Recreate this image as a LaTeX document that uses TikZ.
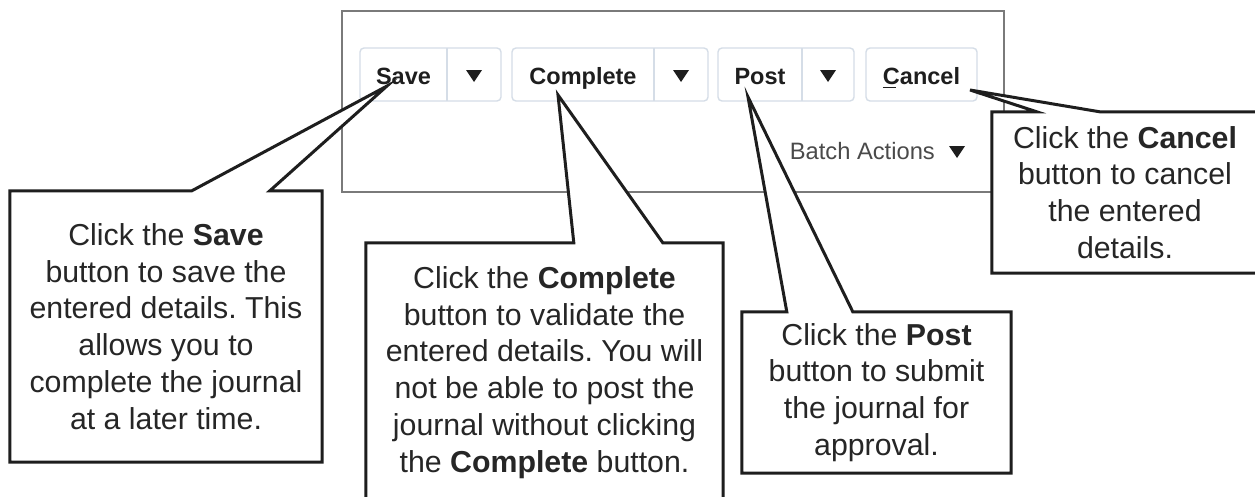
\documentclass[tikz,border=0pt]{standalone}
\usepackage{fontspec}
\setmainfont{Liberation Sans}
\frenchspacing

\pgfdeclarelayer{back}
\pgfdeclarelayer{mid}
\pgfsetlayers{back,mid,main}

\definecolor{panelgray}{HTML}{7A7A7A}
\definecolor{btnedge}{HTML}{D5DDE7}
\definecolor{ink}{HTML}{1E1E1E}
\definecolor{notegray}{HTML}{262626}
\definecolor{batchgray}{HTML}{4A4A4A}

\tikzset{
  btnlabel/.style={font=\fontsize{23.5}{28}\selectfont\bfseries, text=ink, inner sep=0pt, anchor=base},
  btnframe/.style={draw=btnedge, line width=1.4pt, rounded corners=4pt},
  btnsplit/.style={draw=btnedge, line width=1.4pt},
  ddarrow/.pic={\fill[ink] (-8,-6) -- (8,-6) -- (0,6) -- cycle;},
  calltext/.style={font=\fontsize{30.3}{36.7}\selectfont, text=notegray, align=center, inner sep=0pt},
  callshape/.style={draw=ink, fill=white, line width=3pt, line join=miter},
}

\begin{document}
\begin{tikzpicture}[x=1pt,y=-1pt]
\useasboundingbox (0,0) rectangle (1255,496);

% ---- toolbar panel -------------------------------------------------
\begin{pgfonlayer}{back}
  \fill[white] (0,0) rectangle (1255,496);
  \draw[panelgray, line width=2.2pt] (342,11) rectangle (1004,192);
  % split buttons
  \draw[btnframe] (360,48) rectangle (501,101);
  \draw[btnsplit] (447,48) -- (447,101);
  \draw[btnframe] (512,48) rectangle (708,101);
  \draw[btnsplit] (654,48) -- (654,101);
  \draw[btnframe] (718,48) rectangle (854,101);
  \draw[btnsplit] (802,48) -- (802,101);
  \draw[btnframe] (866,48) rectangle (977,101);
  % button captions
  \node[btnlabel] (savelbl) at (403.5,84) {Save};
  \node[btnlabel] (completelbl) at (583,84) {Complete};
  \node[btnlabel] (postlbl) at (760,84) {Post};
  \node[btnlabel] (cancellbl) at (921.5,84)
    {\makebox[0pt][l]{\rule[-4pt]{0.57em}{1.4pt}}Cancel};
  \pic at (474,76) {ddarrow};
  \pic at (681,76) {ddarrow};
  \pic at (828,76) {ddarrow};
  \node[font=\fontsize{23.7}{28}\selectfont, text=batchgray, inner sep=0pt, anchor=base east]
    (batch) at (935,159) {Batch Actions};
  \pic at (957,152) {ddarrow};
\end{pgfonlayer}

% ---- pointer tips on the buttons -------------------------------------
\coordinate (savetip) at (387,86);
\coordinate (completetip) at (558,95);
\coordinate (posttip) at (748,97);
\coordinate (canceltip) at (970,90);

% ---- callout texts ---------------------------------------------------
\node[calltext, minimum width=312pt, minimum height=271pt] (savenote) at (166,326.5)
  {Click the \textbf{Save}\\button to save the\\entered details. This\\allows you to\\complete the journal\\at a later time.};
\node[calltext, minimum width=357pt, minimum height=259pt] (completenote) at (544.5,372.5)
  {Click the \textbf{Complete}\\button to validate the\\entered details. You will\\not be able to post the\\journal without clicking\\the \textbf{Complete} button.};
\node[calltext, minimum width=269pt, minimum height=161pt] (postnote) at (876.5,392.5)
  {Click the \textbf{Post}\\button to submit\\the journal for\\approval.};
\node[calltext, minimum width=266pt, minimum height=161pt] (cancelnote) at (1125,192.5)
  {Click the \textbf{Cancel}\\button to cancel\\the entered\\details.};

% ---- callout outlines with pointers ------------------------------------
\begin{pgfonlayer}{mid}
  \draw[callshape] (savenote.north west) -- ([xshift=182pt]savenote.north west)
    -- (savetip) -- ([xshift=260pt]savenote.north west) -- (savenote.north east)
    -- (savenote.south east) -- (savenote.south west) -- cycle;
  \draw[callshape] (completenote.north west) -- ([xshift=208pt]completenote.north west)
    -- (completetip) -- ([xshift=297pt]completenote.north west) -- (completenote.north east)
    -- (completenote.south east) -- (completenote.south west) -- cycle;
  \draw[callshape] (postnote.north west) -- ([xshift=45pt]postnote.north west)
    -- (posttip) -- ([xshift=111pt]postnote.north west) -- (postnote.north east)
    -- (postnote.south east) -- (postnote.south west) -- cycle;
  \draw[callshape] (cancelnote.north west) -- ([xshift=45pt]cancelnote.north west)
    -- (canceltip) -- ([xshift=108pt]cancelnote.north west) -- (cancelnote.north east)
    -- (cancelnote.south east) -- (cancelnote.south west) -- cycle;
\end{pgfonlayer}
\end{tikzpicture}
\end{document}
